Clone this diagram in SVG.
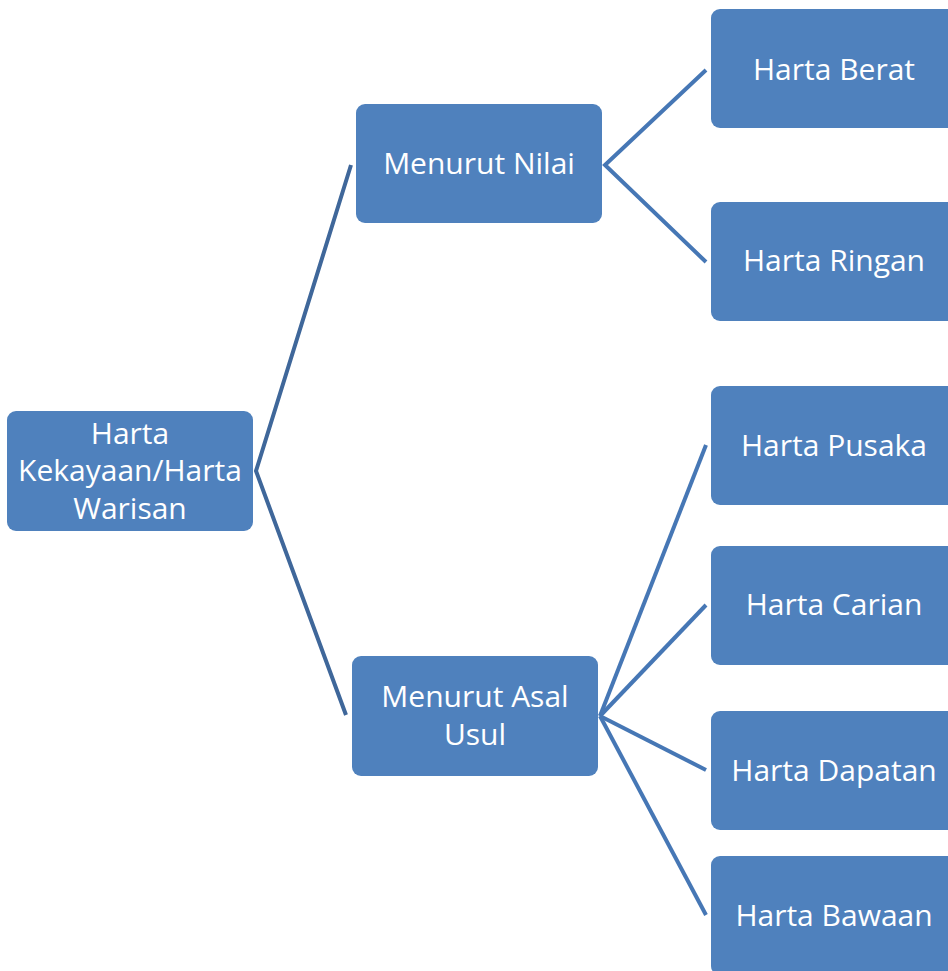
<svg xmlns="http://www.w3.org/2000/svg" width="948" height="971" viewBox="0 0 948 971">
<style>
.box{fill:#4F81BD}
.t{fill:#FFFFFF;font-family:"Open Sans","Noto Sans",sans-serif;font-size:30px;text-anchor:middle}
.c{fill:none;stroke:#4677B5;stroke-width:4}
.c0{fill:none;stroke:#3F679A;stroke-width:4}
</style>
<rect width="948" height="971" fill="#FFFFFF"/>
<g id="connectors">
<polyline class="c0" points="351,165 256,471 346,715"/>
<polyline class="c" points="706,70 605,165 706,262"/>
<line class="c" x1="600" y1="716" x2="706" y2="445"/>
<line class="c" x1="600" y1="716" x2="706" y2="605"/>
<line class="c" x1="600" y1="716" x2="706" y2="770"/>
<line class="c" x1="600" y1="716" x2="706" y2="915"/>
</g>
<g id="root"><rect class="box" x="7" y="411" width="246" height="120" rx="9"/>
<text class="t" x="130" y="444">Harta</text><text class="t" x="130" y="481">Kekayaan/Harta</text><text class="t" x="130" y="519">Warisan</text></g>
<g id="nilai"><rect class="box" x="356" y="104" width="246" height="119" rx="9"/><text class="t" x="479" y="174">Menurut Nilai</text></g>
<g id="asal"><rect class="box" x="352" y="656" width="246" height="120" rx="9"/><text class="t" x="475" y="707">Menurut Asal</text><text class="t" x="475" y="745">Usul</text></g>
<g id="berat"><rect class="box" x="711" y="9" width="246" height="119" rx="9"/><text class="t" x="834" y="80">Harta Berat</text></g>
<g id="ringan"><rect class="box" x="711" y="202" width="246" height="119" rx="9"/><text class="t" x="834" y="271">Harta Ringan</text></g>
<g id="pusaka"><rect class="box" x="711" y="386" width="246" height="119" rx="9"/><text class="t" x="834" y="456">Harta Pusaka</text></g>
<g id="carian"><rect class="box" x="711" y="546" width="246" height="119" rx="9"/><text class="t" x="834" y="615">Harta Carian</text></g>
<g id="dapatan"><rect class="box" x="711" y="711" width="246" height="119" rx="9"/><text class="t" x="834" y="781">Harta Dapatan</text></g>
<g id="bawaan"><rect class="box" x="711" y="856" width="246" height="119" rx="9"/><text class="t" x="834" y="926">Harta Bawaan</text></g>
</svg>
